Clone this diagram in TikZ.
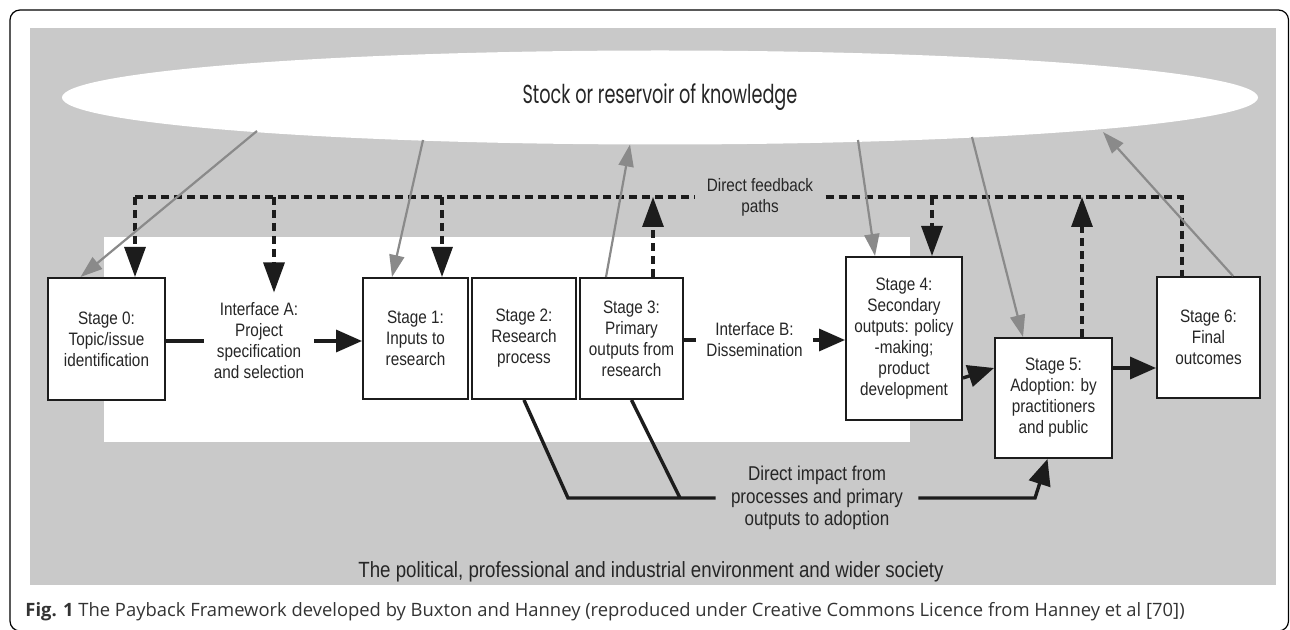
\documentclass[tikz,border=0pt]{standalone}
\usepackage{fontspec}
\setmainfont{Liberation Sans}
\newfontfamily\boxfont{Liberation Sans}[FakeStretch=0.85]
\newfontfamily\stockfont{Poppins}[FakeStretch=0.68]
\newfontfamily\capfont{Open Sans}
\usepackage{tikz}
\usetikzlibrary{shapes.geometric,arrows.meta,positioning}
\definecolor{envgray}{RGB}{201,201,201}
\definecolor{linkgray}{RGB}{138,138,138}
\definecolor{inkblack}{RGB}{28,28,28}

\begin{document}
\begin{tikzpicture}[
    x=0.5pt, y=-0.5pt,
    stage/.style={draw=inkblack, line width=1pt, fill=white, rectangle, align=center, inner sep=2pt, font=\boxfont\fontsize{9}{10.5}\selectfont, text=black!85},
    iface/.style={align=center, inner sep=5pt, font=\boxfont\fontsize{9}{10.5}\selectfont, text=black!85},
    link/.style={line width=1.7pt, draw=inkblack},
    flow/.style={link, -{Triangle[length=13pt,width=11pt]}},
    feedback/.style={line width=1.6pt, dash pattern=on 4pt off 2.5pt, draw=inkblack},
    fbarrow/.style={feedback, -{Triangle[length=15pt,width=10.5pt]}},
    knows/.style={line width=1.1pt, draw=linkgray, -{Triangle[length=11pt,width=7.5pt]}, color=linkgray}
]
    \useasboundingbox (0,0) rectangle (1290,630);

    % frame and environment
    \draw[line width=0.6pt, rounded corners=5pt] (10,10) rectangle (1288.5,631);
    \fill[envgray] (30,28) rectangle (1276,585);
    \fill[white] (104,237) rectangle (910,442);

    \node[ellipse, fill=white, inner sep=0pt, minimum width=598pt, minimum height=47pt,
          font=\stockfont\fontsize{13}{15}\selectfont, text=black!85] (stock) at (660,97.5) {Stock or reservoir of knowledge};

    \node[font=\boxfont\fontsize{11}{13}\selectfont, text=black!85] (env) at (651,572) {The political, professional and industrial environment and wider society};

    \node[anchor=west, inner sep=0pt, font=\capfont\fontsize{9.2}{11}\selectfont, text=black!80] (caption) at (25,612)
        {\textbf{Fig. 1} The Payback Framework developed by Buxton and Hanney (reproduced under Creative Commons Licence from Hanney et al [70])};

    % stages
    \node[stage, minimum width=58.5pt, minimum height=61pt] (s0) at (106.5,339) {Stage 0:\\Topic/issue\\identification};
    \node[stage, minimum width=52.5pt, minimum height=60.5pt] (s1) at (415.5,338.5) {Stage 1:\\Inputs to\\research};
    \node[stage, minimum width=52pt, minimum height=60.5pt, right=1pt of s1] (s2) {Stage 2:\\Research\\process};
    \node[stage, minimum width=51.5pt, minimum height=60.5pt, right=1pt of s2] (s3) {Stage 3:\\Primary\\outputs from\\research};
    \node[stage, minimum width=58pt, minimum height=81.5pt] (s4) at (904,338.5) {Stage 4:\\Secondary\\outputs: policy\\-making;\\product\\development};
    \node[stage, minimum width=58.5pt, minimum height=60pt] (s5) at (1053.5,398) {Stage 5:\\Adoption: by\\practitioners\\and public};
    \node[stage, minimum width=51.5pt, minimum height=60.5pt] (s6) at (1208.5,337.5) {Stage 6:\\Final\\outcomes};

    \node[iface] (ifA) at (259,341) {Interface A:\\Project\\specification\\and selection};
    \node[iface] (ifB) at (754.5,340) {Interface B:\\Dissemination};
    \node[iface, inner xsep=6pt] (fbtxt) at (760,197) {Direct feedback\\paths};
    \node[iface, inner xsep=7.5pt, font=\boxfont\fontsize{10}{11.25}\selectfont] (impact) at (817,498) {Direct impact from\\processes and primary\\outputs to adoption};

    % main flow
    \draw[link] (s0.east |- ifA) -- (ifA.west);
    \draw[flow] (ifA.east) -- (ifA.east -| s1.west);
    \draw[link] (s3.east |- ifB) -- (ifB.west);
    \draw[flow] (ifB.east) -- (ifB.east -| s4.west);
    \draw[flow] ([yshift=-19.75pt]s4.east) -- ([yshift=15pt]s5.west);
    \draw[flow] ([yshift=15pt]s5.east) -- ([yshift=15pt]s5.east -| s6.west);

    % feedback paths
    \coordinate (fb0) at (135,197);
    \coordinate (fbA) at (274,197);
    \coordinate (fb1) at (442,197);
    \coordinate (fb3) at (653,197);
    \coordinate (fb4) at (932,197);
    \coordinate (fb5) at (1082,197);
    \coordinate (fb6) at (1182,197);

    \draw[feedback] (fb0) -- (fbtxt.west);
    \draw[feedback] (fbtxt.east) -- (fb6) -- (fb6 |- s6.north);
    \draw[fbarrow] (fb0) -- (fb0 |- s0.north);
    \draw[fbarrow] (fbA) -- (fbA |- ifA.north);
    \draw[fbarrow] (fb1) -- (fb1 |- s1.north);
    \draw[fbarrow] (fb3 |- s3.north) -- (fb3);
    \draw[fbarrow] (fb4) -- (fb4 |- s4.north);
    \draw[fbarrow] (fb5 |- s5.north) -- (fb5);

    % knowledge links
    \draw[knows] ([shift={(-403,33.5)}]stock.center) -- ([xshift=-13pt]s0.north);
    \draw[knows] ([shift={(-237,42.5)}]stock.center) -- ([xshift=-11.75pt]s1.north);
    \draw[knows] ([xshift=-12.75pt]s3.north) -- ([shift={(-30,47)}]stock.center);
    \draw[knows] ([shift={(198,42.5)}]stock.center) -- ([xshift=-14.5pt]s4.north);
    \draw[knows] ([shift={(312,39.5)}]stock.center) -- ([xshift=-15.25pt]s5.north);
    \draw[knows] ([xshift=12.25pt]s6.north) -- ([shift={(443,34.5)}]stock.center);

    % direct impact
    \coordinate (j2) at (568,498);
    \coordinate (j3) at (680,498);
    \coordinate (jbend) at (1035,498);
    \draw[link] (s2.south) -- (j2) -- (impact.west);
    \draw[link] (s3.south) -- (j3);
    \draw[flow] (impact.east) -- (jbend) -- ([xshift=-3pt]s5.south);

\end{tikzpicture}
\end{document}
